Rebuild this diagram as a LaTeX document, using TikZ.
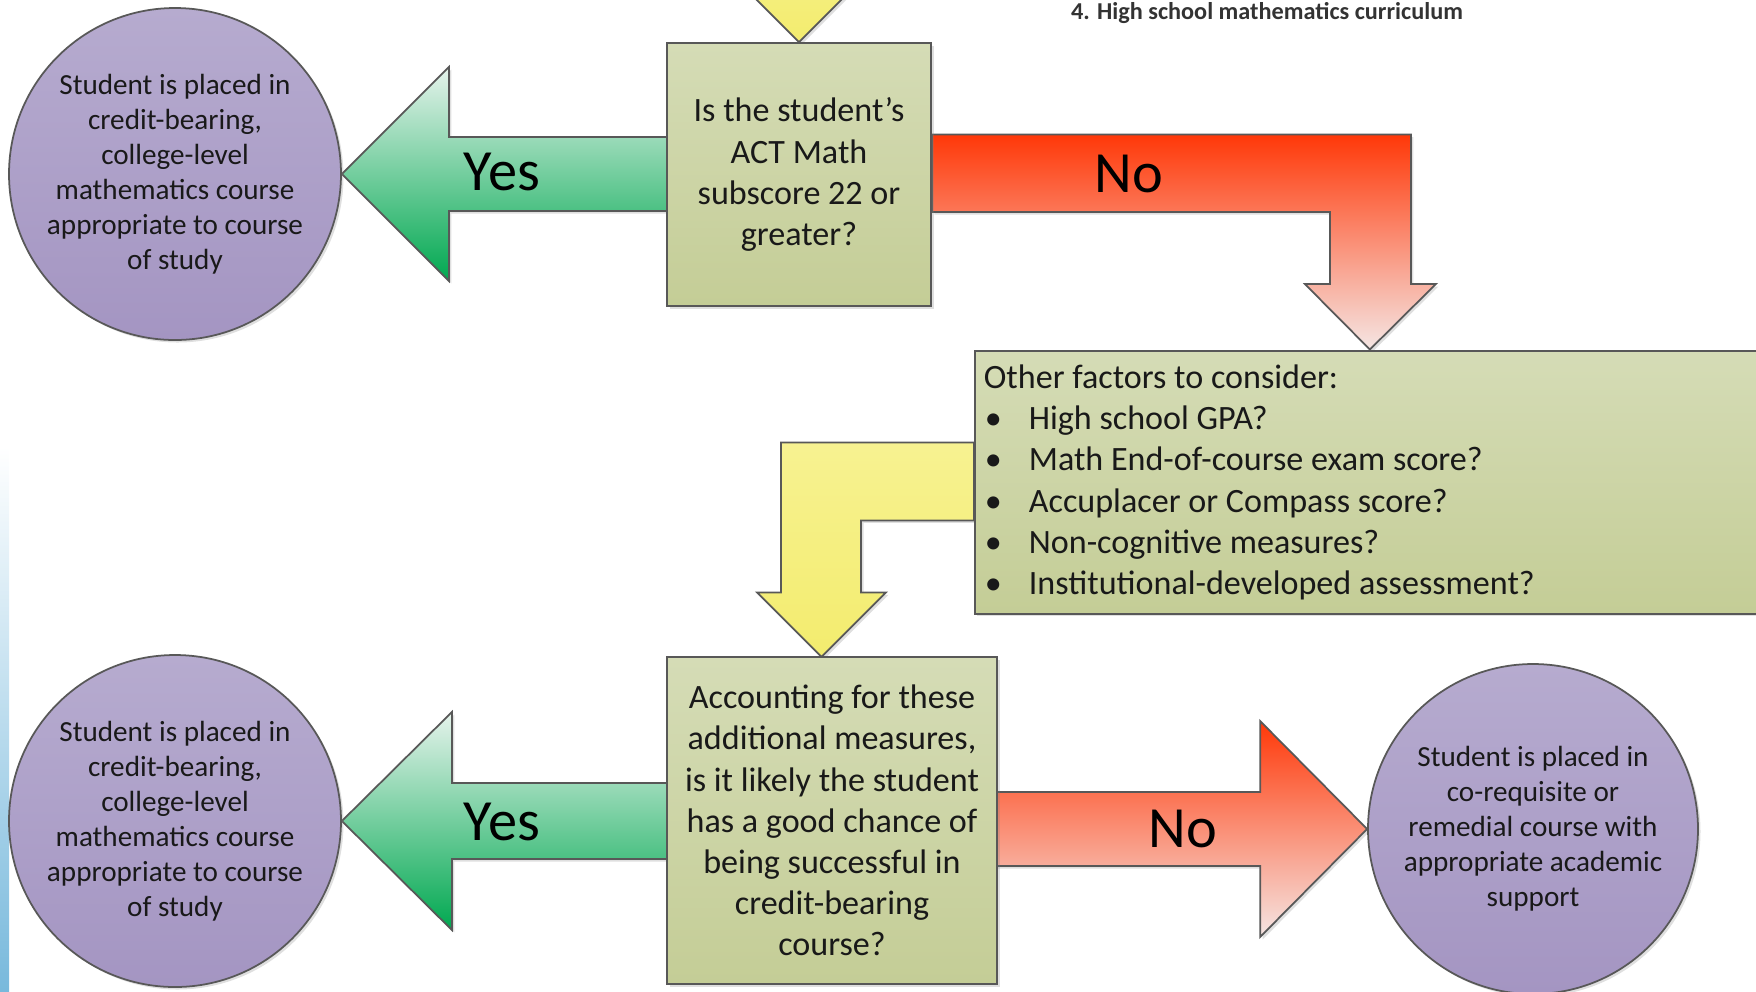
\documentclass[tikz,border=0pt]{standalone}
\usepackage{fontspec}
\setmainfont{Carlito}
\usepackage{tikz}
\usetikzlibrary{shadows,backgrounds}
\usepackage{xcolor}

\definecolor{boxtop}{RGB}{213,220,182}
\definecolor{boxbot}{RGB}{196,205,150}
\definecolor{circtop}{RGB}{182,171,207}
\definecolor{circbot}{RGB}{164,149,194}
\definecolor{greentop}{RGB}{230,243,236}
\definecolor{greenbot}{RGB}{0,168,80}
\definecolor{redtop}{RGB}{255,56,8}
\definecolor{redbot}{RGB}{245,230,228}
\definecolor{yeltop}{RGB}{247,242,145}
\definecolor{yelbot}{RGB}{243,236,110}
\definecolor{edge}{RGB}{88,88,88}
\definecolor{stripblue}{RGB}{120,185,220}
\definecolor{ink}{RGB}{25,25,25}

\newcommand{\factorbullet}{\makebox[4.5mm][l]{\hspace{0.1mm}\textbullet}}

\tikzset{
  soft/.style={drop shadow={shadow xshift=0.25mm, shadow yshift=-0.25mm, opacity=0.25}},
  qbox/.style={rectangle, draw=edge, line width=0.5pt, top color=boxtop, bottom color=boxbot,
    align=center, text=ink, font=\fontsize{9.7}{11.7}\selectfont, soft},
  place/.style={circle, draw=edge, line width=0.5pt, top color=circtop, bottom color=circbot,
    minimum size=33.2mm, inner sep=0pt, align=center, text=ink, font=\fontsize{8.3}{9.96}\selectfont, soft},
  bigword/.style={text=black, font=\fontsize{16.6}{18}\selectfont},
  yesarrow/.style={draw=edge, line width=0.5pt, top color=greentop, bottom color=greenbot, soft},
  noarrow/.style={draw=edge, line width=0.5pt, top color=redtop, bottom color=redbot, soft},
  goarrow/.style={draw=edge, line width=0.5pt, top color=yeltop, bottom color=yelbot, soft},
}

\begin{document}
\begin{tikzpicture}[x=0.1mm, y=-0.1mm]
\useasboundingbox (0,0) rectangle (1756,991);
\clip (0,0) rectangle (1756,991);

\node[text=black!80, font=\bfseries\fontsize{6.9}{8}\selectfont] (title) at (1267,13) {4. High school mathematics curriculum};

\node[qbox, minimum width=26.4mm, minimum height=26.3mm] (q1) at (799,174.5) {Is the student’s\\ACT Math\\subscore 22 or\\greater?};
\node[place] (c1) at (175,174) {Student is placed in\\credit-bearing,\\college-level\\mathematics course\\appropriate to course\\of study};
\node[qbox, anchor=north west, minimum width=83mm, minimum height=26.3mm, text width=81.2mm, inner xsep=0.9mm, align=flush left] (f) at (974,350) {Other factors to consider:\\
\factorbullet High school GPA?\\
\factorbullet Math End-of-course exam score?\\
\factorbullet Accuplacer or Compass score?\\
\factorbullet Non-cognitive measures?\\
\factorbullet Institutional-developed assessment?};
\node[qbox, minimum width=33mm, minimum height=32.7mm] (q2) at (832,820.5) {Accounting for these\\additional measures,\\is it likely the student\\has a good chance of\\being successful in\\credit-bearing\\course?};
\node[place] (c2) at (175,821) {Student is placed in\\credit-bearing,\\college-level\\mathematics course\\appropriate to course\\of study};
\node[place, minimum size=33mm] (c3) at (1533,829) {Student is placed in\\co-requisite or\\remedial course with\\appropriate academic\\support};

\node[bigword] (yes1) at (502,172) {Yes};
\node[bigword] (no1) at (1129,174) {No};
\node[bigword] (yes2) at (502,822) {Yes};
\node[bigword] (no2) at (1183,829) {No};

\begin{scope}[on background layer]
\fill[top color=white, bottom color=stripblue] (0,447) rectangle (9,991);
\draw[goarrow] (q1.north) -- ++(-65,-65) -- ++(25,0) -- ++(0,-60) -- ++(80,0) -- ++(0,60) -- ++(25,0) -- cycle;
\draw[yesarrow] (c1.east) -- ++(107,-107) -- ++(0,70) -- ++(219,0) -- ++(0,74) -- ++(-219,0) -- ++(0,70) -- cycle;
\draw[noarrow] (q1.east) ++(0,-40) -- ++(479,0) -- ++(0,149.5) -- ++(25,0) -- ++(-66,65.5) -- ++(-65,-65.5) -- ++(25,0) -- ++(0,-72) -- ++(-398,0) -- cycle;
\draw[goarrow] (f.west) ++(0,-40) -- ++(-193,0) -- ++(0,150) -- ++(-24,0) -- ++(64.5,64.5) -- ++(64.5,-64.5) -- ++(-25,0) -- ++(0,-72) -- ++(113,0) -- cycle;
\draw[yesarrow] (c2.east) -- ++(110,-109) -- ++(0,71) -- ++(217,0) -- ++(0,76) -- ++(-217,0) -- ++(0,71) -- cycle;
\draw[noarrow] (c3.west) -- ++(-107,-108) -- ++(0,71) -- ++(-265,0) -- ++(0,74) -- ++(265,0) -- ++(0,71) -- cycle;
\end{scope}
\end{tikzpicture}
\end{document}
